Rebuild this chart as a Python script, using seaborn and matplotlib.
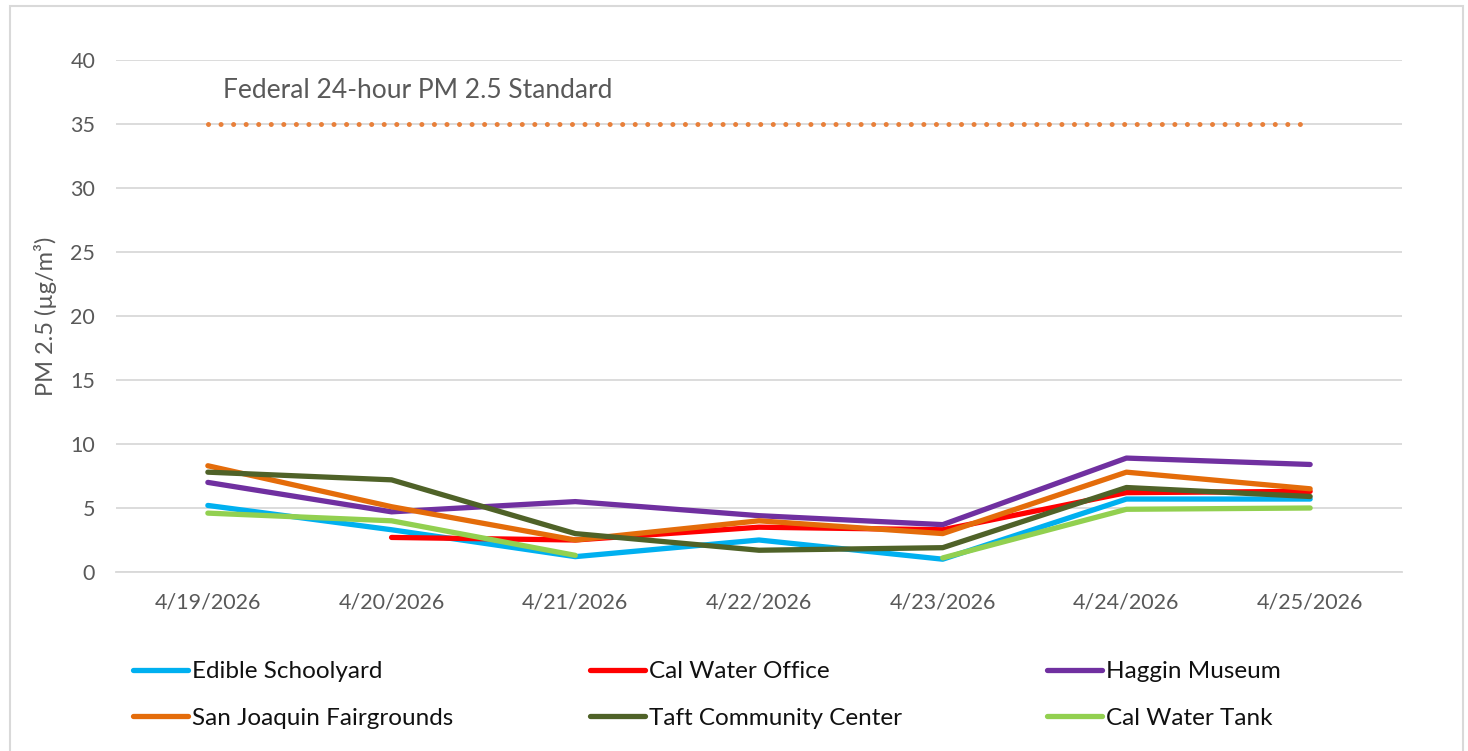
import numpy as np
import pandas as pd
import matplotlib
matplotlib.use("Agg")
import matplotlib.pyplot as plt
from matplotlib.patches import Rectangle
import seaborn as sns

# ----------------------------
# Data
# ----------------------------
DATES = ["4/19/2026", "4/20/2026", "4/21/2026", "4/22/2026",
         "4/23/2026", "4/24/2026", "4/25/2026"]

SITES = ["Edible Schoolyard", "Cal Water Office", "Haggin Museum",
         "San Joaquin Fairgrounds", "Taft Community Center", "Cal Water Tank"]

edible_schoolyard = [5.2, 3.3, 1.2, 2.5, 1.0, 5.7, 5.7]
cal_water_office = [np.nan, 2.7, 2.5, 3.5, 3.3, 6.2, 6.3]
haggin_museum = [7.0, 4.7, 5.5, 4.4, 3.7, 8.9, 8.4]
san_joaquin_fairgrounds = [8.3, 5.1, 2.5, 4.0, 3.0, 7.8, 6.5]
taft_community_center = [7.8, 7.2, 3.0, 1.7, 1.9, 6.6, 5.9]
cal_water_tank = [4.6, 4.0, 1.3, np.nan, 1.1, 4.9, 5.0]

FEDERAL_STANDARD = 35
STANDARD_LABEL = "Federal 24-hour PM 2.5 Standard"

COLORS = ["#00B0F0", "#FF0000", "#7030A0", "#E46C0A", "#4F6228", "#92D050"]
GRID = "#D9D9D9"
TEXT = "#595959"

# ----------------------------
# Long-form table, gaps become separate units
# ----------------------------
series = [edible_schoolyard, cal_water_office, haggin_museum,
          san_joaquin_fairgrounds, taft_community_center, cal_water_tank]
rows = []
for site, vals in zip(SITES, series):
    seg = 0
    for i, v in enumerate(vals):
        if np.isnan(v):
            seg += 1
            continue
        rows.append({"site": site, "day": i, "pm25": v, "seg": f"{site}-{seg}"})
df = pd.DataFrame(rows)

# ----------------------------
# Plot
# ----------------------------
sns.set_style("white")
plt.rcParams["font.family"] = ["Lato", "DejaVu Sans"]

W, H = 1468, 751
fig = plt.figure(figsize=(W / 100, H / 100), dpi=100)
ax = fig.add_axes([116 / W, 1 - 572 / H, (1402 - 116) / W, (572 - 60) / H])

sns.lineplot(data=df, x="day", y="pm25", hue="site", hue_order=SITES,
             palette=COLORS, units="seg", estimator=None, sort=True,
             linewidth=3.8, solid_capstyle="round", solid_joinstyle="round",
             ax=ax)

x = np.arange(len(DATES))
ax.plot(x, [FEDERAL_STANDARD] * len(DATES), color="#E8803A", lw=3.6,
        linestyle=(0, (0.01, 2.5)), dash_capstyle="round", zorder=1)
ax.text(0.08, 37.6, STANDARD_LABEL, color=TEXT, fontsize=19,
        ha="left", va="center")

ax.set_xlim(-0.5, len(DATES) - 0.5)
ax.set_ylim(0, 40)
ax.set_yticks(np.arange(0, 41, 5))
ax.set_xticks(x)
ax.set_xticklabels(DATES)
ax.set_xticks(np.arange(-0.5, len(DATES), 1), minor=True)
ax.tick_params(axis="x", which="major", length=0, pad=15, labelsize=15.5,
               labelcolor=TEXT)
ax.tick_params(axis="x", which="minor", length=6, width=1.2, color=GRID)
ax.tick_params(axis="y", length=0, pad=15, labelsize=15.5, labelcolor=TEXT)

ax.yaxis.grid(True, color=GRID, lw=1.3)
ax.set_axisbelow(True)
for side in ["left", "right", "top"]:
    ax.spines[side].set_visible(False)
ax.spines["bottom"].set_color(GRID)
ax.spines["bottom"].set_linewidth(1.3)

ax.set_xlabel("")
ax.set_ylabel("PM 2.5 (µg/m³)", color=TEXT, fontsize=17)
ax.yaxis.set_label_coords((57 - 116) / (1402 - 116), 0.5)

# legend: 3 columns x 2 rows, placed by hand
handles, labels = ax.get_legend_handles_labels()
ax.get_legend().remove()
col_x = [133, 590, 1047]
for c in range(3):
    idx = [c, c + 3]
    leg = fig.legend([handles[i] for i in idx], [labels[i] for i in idx],
                     loc="upper left", bbox_to_anchor=(col_x[c] / W, 1 - 661 / H),
                     frameon=False, fontsize=17.5, handlelength=2.26,
                     handletextpad=0.17, labelspacing=1.05, borderpad=0,
                     borderaxespad=0, labelcolor="#111111")
    for ln in leg.get_lines():
        ln.set_linewidth(3.8)
        ln.set_solid_capstyle("round")

fig.patches.append(Rectangle((10 / W, -0.05), (1463 - 10) / W, 1.05 - 6 / H,
                             transform=fig.transFigure, fill=False,
                             ec=GRID, lw=1.5))

fig.savefig("out.png", dpi=100)
